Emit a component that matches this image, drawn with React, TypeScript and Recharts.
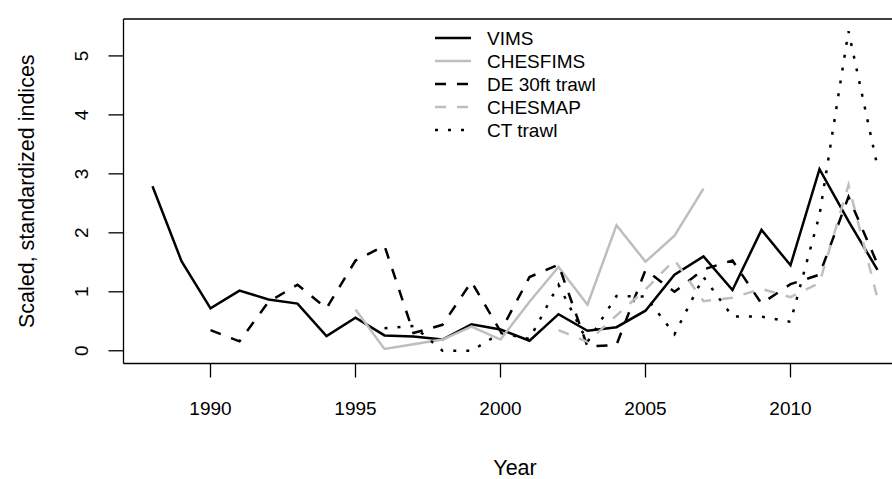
import { LineChart, Line, XAxis, YAxis, ReferenceLine, Legend } from 'recharts'

// survey years
const YEARS = [
  1988, 1989, 1990, 1991, 1992, 1993, 1994, 1995, 1996, 1997, 1998, 1999, 2000,
  2001, 2002, 2003, 2004, 2005, 2006, 2007, 2008, 2009, 2010, 2011, 2012, 2013,
]

// each index series starts at its own first year
const VIMS_START = 1988
const VIMS = [
  2.79, 1.52, 0.72, 1.02, 0.87, 0.8, 0.25, 0.56, 0.26, 0.24, 0.19, 0.45, 0.36,
  0.17, 0.62, 0.34, 0.4, 0.68, 1.29, 1.6, 1.03, 2.05, 1.45, 3.08, 2.2, 1.37,
]

const CHESFIMS_START = 1995
const CHESFIMS = [0.7, 0.03, 0.11, 0.19, 0.41, 0.19, 0.83, 1.42, 0.78, 2.13, 1.51, 1.95, 2.75]

const DE_START = 1990
const DE_TRAWL = [
  0.35, 0.16, 0.83, 1.12, 0.72, 1.53, 1.78, 0.3, 0.44, 1.17, 0.33, 1.25, 1.46,
  0.07, 0.1, 1.37, 1.0, 1.38, 1.53, 0.8, 1.13, 1.29, 2.61, 1.47,
]

const CHESMAP_START = 2002
const CHESMAP = [0.35, 0.15, 0.6, 1.04, 1.54, 0.84, 0.9, 1.05, 0.91, 1.15, 2.81, 0.89]

const CT_START = 1996
const CT_TRAWL = [
  0.38, 0.42, 0.0, 0.0, 0.3, 0.2, 1.12, 0.15, 0.93, 0.92, 0.28, 1.25, 0.58, 0.58,
  0.49, 2.3, 5.42, 3.12,
]

const X_TICKS = [1990, 1995, 2000, 2005, 2010]
const Y_TICKS = [0, 1, 2, 3, 4, 5]

const FONT = '"Liberation Sans", Arial, sans-serif'
const GREY = '#bebebe'
const TICK_FONT = 19
const TITLE_FONT = 21.5
const LEGEND_FONT = 19

const SERIES = [
  { key: 'vims', name: 'VIMS', start: VIMS_START, values: VIMS, color: '#000', dash: undefined },
  { key: 'chesfims', name: 'CHESFIMS', start: CHESFIMS_START, values: CHESFIMS, color: GREY, dash: undefined },
  { key: 'de', name: 'DE 30ft trawl', start: DE_START, values: DE_TRAWL, color: '#000', dash: '11 11' },
  { key: 'chesmap', name: 'CHESMAP', start: CHESMAP_START, values: CHESMAP, color: GREY, dash: '11 11' },
  { key: 'ct', name: 'CT trawl', start: CT_START, values: CT_TRAWL, color: '#000', dash: '3 10' },
]

const data = YEARS.map(year => {
  const row: Record<string, number | null> = { year }
  SERIES.forEach(s => {
    const v = s.values[year - s.start]
    row[s.key] = v === undefined ? null : v
  })
  return row
})

// R-style rotated y tick labels
const YTick = (props: any) => {
  const { x, y, payload } = props
  return (
    <text
      transform={`translate(${x - 21}, ${y}) rotate(-90)`}
      textAnchor="middle"
      fontSize={TICK_FONT}
      fontFamily={FONT}
      fill="#000"
    >
      {payload.value}
    </text>
  )
}

const YTitle = (props: any) => {
  const { viewBox } = props
  const cy = viewBox.y + viewBox.height / 2
  return (
    <text
      transform={`translate(${viewBox.x + 34}, ${cy}) rotate(-90)`}
      textAnchor="middle"
      fontSize={TITLE_FONT}
      fontFamily={FONT}
      fill="#000"
    >
      Scaled, standardized indices
    </text>
  )
}

const XTitle = (props: any) => {
  const { viewBox } = props
  return (
    <text
      x={viewBox.x + viewBox.width / 2}
      y={475}
      textAnchor="middle"
      fontSize={TITLE_FONT}
      fontFamily={FONT}
      fill="#000"
    >
      Year
    </text>
  )
}

const LegendBox = () => (
  <svg width={240} height={125} style={{ display: 'block' }}>
    {SERIES.map((s, i) => {
      const y = 13 + i * 23
      return (
        <g key={s.key}>
          <line
            x1={5}
            x2={41}
            y1={y}
            y2={y}
            stroke={s.color}
            strokeWidth={2.5}
            strokeDasharray={s.dash}
          />
          <text x={57} y={y + 7} fontSize={LEGEND_FONT} fontFamily={FONT} fill="#000">
            {s.name}
          </text>
        </g>
      )
    })}
  </svg>
)

export default function App() {
  return (
    <div
      style={{
        position: 'absolute',
        left: 0,
        top: 0,
        width: 892,
        height: 479,
        overflow: 'hidden',
        background: '#fff',
      }}
    >
      <LineChart
        width={930}
        height={479}
        data={data}
        margin={{ top: 19, right: 23.5, left: 0, bottom: 55.5 }}
      >
        <XAxis
          dataKey="year"
          type="number"
          domain={[1987, 2014]}
          allowDataOverflow
          ticks={X_TICKS}
          tickSize={14}
          tickMargin={24}
          tick={{ fontSize: TICK_FONT, fontFamily: FONT, fill: '#000' }}
          tickLine={{ stroke: '#000', strokeWidth: 1.3 }}
          axisLine={{ stroke: '#000', strokeWidth: 1.3 }}
          height={60}
          label={XTitle}
        />
        <YAxis
          type="number"
          domain={[-0.216, 5.626]}
          allowDataOverflow
          ticks={Y_TICKS}
          tickSize={15}
          tickMargin={0}
          width={123.5}
          tick={YTick}
          tickLine={{ stroke: '#000', strokeWidth: 1.3 }}
          axisLine={{ stroke: '#000', strokeWidth: 1.3 }}
          label={YTitle}
        />
        <ReferenceLine y={5.626} stroke="#000" strokeWidth={1.3} />
        <Legend
          layout="horizontal"
          verticalAlign="middle"
          align="center"
          wrapperStyle={{ position: 'absolute', left: 430, top: 25, width: 240, height: 125 }}
          content={LegendBox}
        />
        {SERIES.map(s => (
          <Line
            key={s.key}
            dataKey={s.key}
            name={s.name}
            type="linear"
            stroke={s.color}
            strokeWidth={2.5}
            strokeDasharray={s.dash}
            dot={false}
            activeDot={false}
            isAnimationActive={false}
          />
        ))}
      </LineChart>
    </div>
  )
}
